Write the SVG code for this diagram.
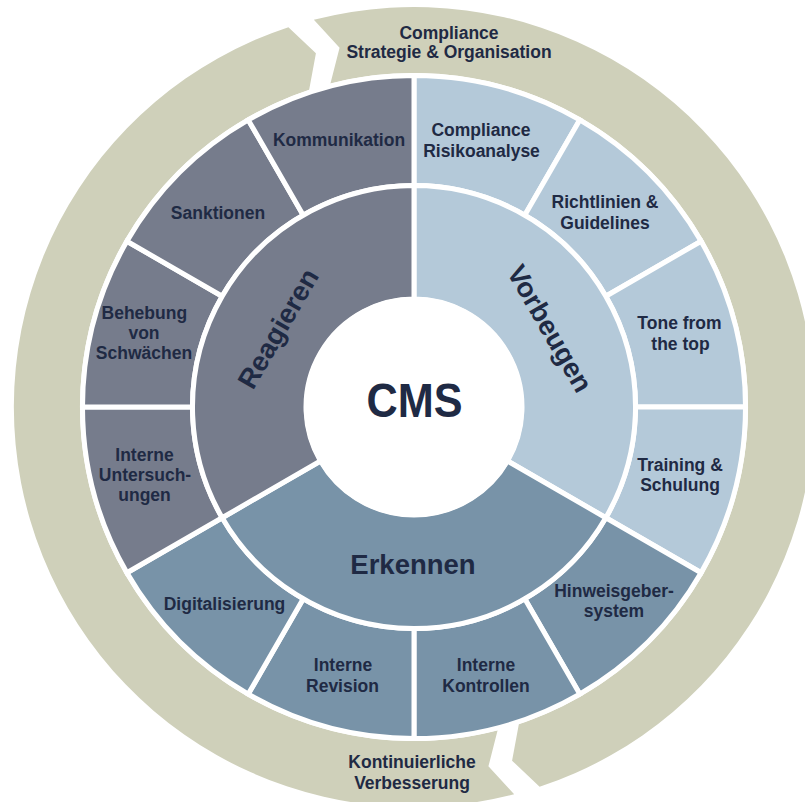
<svg xmlns="http://www.w3.org/2000/svg" width="805" height="802" viewBox="0 0 805 802">
  <style>
    .loop { fill: #cfd0ba; }
    .seg { stroke: #ffffff; stroke-width: 5; stroke-linejoin: miter; }
    .react { fill: #767c8c; }
    .prevent { fill: #b4c9d9; }
    .detect { fill: #7893a8; }
    text { font-family: "Liberation Sans", Arial, sans-serif; font-weight: 700; fill: #1f2a44; text-anchor: middle; }
    .lbl { font-size: 17.5px; }
    .pillar { font-size: 27.5px; }
    .core { font-size: 48px; }
  </style>

  <!-- continuous improvement loop: two chevron arcs, centre (414,407) -->
  <g id="loop">
    <g id="loop-verbesserung">
      <path class="loop" d="M514.15,794.26 A400,400 0 0 1 288.4,27.22 L315.92,53.35 L309.12,89.89 A334,334 0 0 0 497.63,730.36 L488.42,766.37 Z"/>
      <text class="lbl" x="412" y="768.3">Kontinuierliche</text>
      <text class="lbl" x="412" y="788.5">Verbesserung</text>
    </g>
    <g id="loop-strategie">
      <path class="loop" d="M313.85,19.74 A400,400 0 0 1 539.6,786.78 L512.08,760.65 L518.88,724.11 A334,334 0 0 0 330.37,83.64 L339.58,47.63 Z"/>
      <text class="lbl" x="449" y="39.3">Compliance</text>
      <text class="lbl" x="449" y="58.3">Strategie &amp; Organisation</text>
    </g>
  </g>

  <!-- outer ring: twelve 30-degree measures -->
  <g id="risikoanalyse">
    <path class="seg prevent" d="M414,185.5 L414,75.5 A331.5,331.5 0 0 1 579.75,119.91 L524.75,215.18 A221.5,221.5 0 0 0 414,185.5 Z"/>
    <text class="lbl" x="481" y="136">Compliance</text>
    <text class="lbl" x="481.5" y="157">Risikoanalyse</text>
  </g>
  <g id="richtlinien">
    <path class="seg prevent" d="M524.75,215.18 L579.75,119.91 A331.5,331.5 0 0 1 701.09,241.25 L605.82,296.25 A221.5,221.5 0 0 0 524.75,215.18 Z"/>
    <text class="lbl" x="605" y="208.3">Richtlinien &amp;</text>
    <text class="lbl" x="605" y="229">Guidelines</text>
  </g>
  <g id="tone-from-the-top">
    <path class="seg prevent" d="M605.82,296.25 L701.09,241.25 A331.5,331.5 0 0 1 745.5,407 L635.5,407 A221.5,221.5 0 0 0 605.82,296.25 Z"/>
    <text class="lbl" x="679.5" y="329">Tone from</text>
    <text class="lbl" x="680.5" y="349.5">the top</text>
  </g>
  <g id="training">
    <path class="seg prevent" d="M635.5,407 L745.5,407 A331.5,331.5 0 0 1 701.09,572.75 L605.82,517.75 A221.5,221.5 0 0 0 635.5,407 Z"/>
    <text class="lbl" x="680" y="470.7">Training &amp;</text>
    <text class="lbl" x="680" y="490.7">Schulung</text>
  </g>
  <g id="hinweisgebersystem">
    <path class="seg detect" d="M605.82,517.75 L701.09,572.75 A331.5,331.5 0 0 1 579.75,694.09 L524.75,598.82 A221.5,221.5 0 0 0 605.82,517.75 Z"/>
    <text class="lbl" x="614" y="596.7">Hinweisgeber-</text>
    <text class="lbl" x="614" y="616.7">system</text>
  </g>
  <g id="interne-kontrollen">
    <path class="seg detect" d="M524.75,598.82 L579.75,694.09 A331.5,331.5 0 0 1 414,738.5 L414,628.5 A221.5,221.5 0 0 0 524.75,598.82 Z"/>
    <text class="lbl" x="486" y="671">Interne</text>
    <text class="lbl" x="486" y="692">Kontrollen</text>
  </g>
  <g id="interne-revision">
    <path class="seg detect" d="M414,628.5 L414,738.5 A331.5,331.5 0 0 1 248.25,694.09 L303.25,598.82 A221.5,221.5 0 0 0 414,628.5 Z"/>
    <text class="lbl" x="343" y="671">Interne</text>
    <text class="lbl" x="342.5" y="692">Revision</text>
  </g>
  <g id="digitalisierung">
    <path class="seg detect" d="M303.25,598.82 L248.25,694.09 A331.5,331.5 0 0 1 126.91,572.75 L222.18,517.75 A221.5,221.5 0 0 0 303.25,598.82 Z"/>
    <text class="lbl" x="224.5" y="609.5">Digitalisierung</text>
  </g>
  <g id="interne-untersuchungen">
    <path class="seg react" d="M222.18,517.75 L126.91,572.75 A331.5,331.5 0 0 1 82.5,407 L192.5,407 A221.5,221.5 0 0 0 222.18,517.75 Z"/>
    <text class="lbl" x="144.5" y="460.7">Interne</text>
    <text class="lbl" x="145" y="480.7">Untersuch-</text>
    <text class="lbl" x="144.5" y="501">ungen</text>
  </g>
  <g id="behebung">
    <path class="seg react" d="M192.5,407 L82.5,407 A331.5,331.5 0 0 1 126.91,241.25 L222.18,296.25 A221.5,221.5 0 0 0 192.5,407 Z"/>
    <text class="lbl" x="144.3" y="319">Behebung</text>
    <text class="lbl" x="144" y="339.3">von</text>
    <text class="lbl" x="144" y="359.3">Schwächen</text>
  </g>
  <g id="sanktionen">
    <path class="seg react" d="M222.18,296.25 L126.91,241.25 A331.5,331.5 0 0 1 248.25,119.91 L303.25,215.18 A221.5,221.5 0 0 0 222.18,296.25 Z"/>
    <text class="lbl" x="218" y="219">Sanktionen</text>
  </g>
  <g id="kommunikation">
    <path class="seg react" d="M303.25,215.18 L248.25,119.91 A331.5,331.5 0 0 1 414,75.5 L414,185.5 A221.5,221.5 0 0 0 303.25,215.18 Z"/>
    <text class="lbl" x="339" y="146">Kommunikation</text>
  </g>

  <!-- middle ring: the three pillars -->
  <g id="vorbeugen">
    <path class="seg prevent" d="M414,299 L414,185.5 A221.5,221.5 0 0 1 605.82,517.75 L507.53,461 A108,108 0 0 0 414,299 Z"/>
    <text class="pillar" transform="translate(541.7,333.25) rotate(60)">Vorbeugen</text>
  </g>
  <g id="erkennen">
    <path class="seg detect" d="M507.53,461 L605.82,517.75 A221.5,221.5 0 0 1 222.18,517.75 L320.47,461 A108,108 0 0 0 507.53,461 Z"/>
    <text class="pillar" x="413" y="574">Erkennen</text>
  </g>
  <g id="reagieren">
    <path class="seg react" d="M320.47,461 L222.18,517.75 A221.5,221.5 0 0 1 414,185.5 L414,299 A108,108 0 0 0 320.47,461 Z"/>
    <text class="pillar" transform="translate(286.3,333.25) rotate(-60)">Reagieren</text>
  </g>

  <!-- hub -->
  <g id="cms">
    <circle cx="414" cy="407" r="110" fill="#ffffff"/>
    <text class="core" x="414.5" y="416.7" textLength="96" lengthAdjust="spacingAndGlyphs">CMS</text>
  </g>

  <g id="connectors"/>
</svg>
